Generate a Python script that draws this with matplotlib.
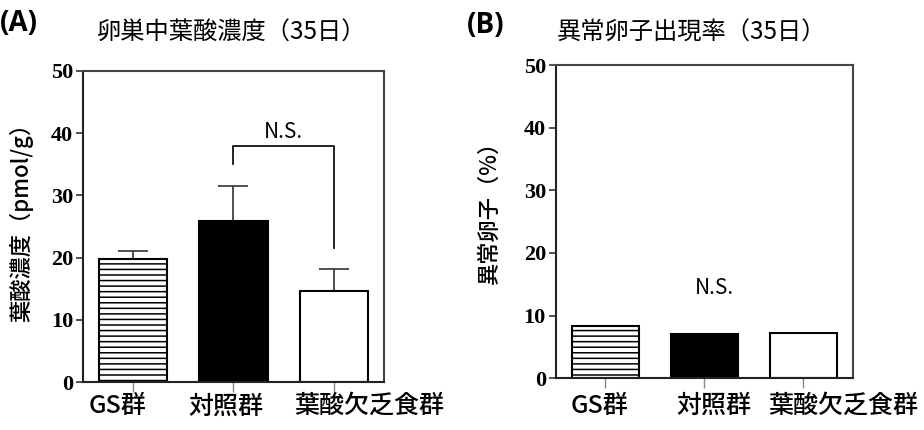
import numpy as np
import matplotlib
matplotlib.use('Agg')
import matplotlib.pyplot as plt

plt.rcParams['font.family'] = ['Noto Sans CJK JP', 'DejaVu Sans']
plt.rcParams['hatch.linewidth'] = 1.1
plt.rcParams['hatch.color'] = '#222222'

groups = ['GS群', '対照群', '葉酸欠乏食群']

# (A) ovarian folate concentration
folate_mean = [19.7, 25.9, 14.6]
folate_err = [1.4, 5.6, 3.6]
bracket_a_x = [1, 1, 2, 2]
bracket_a_y = [35.0, 37.9, 37.9, 21.5]

# (B) abnormal oocyte rate
abnormal_rate = [8.4, 7.0, 7.3]

bar_colors = ['white', 'black', 'white']
bar_hatches = ['---', None, None]
yticks = [0, 10, 20, 30, 40, 50]

# group labels in the original are not centred on the ticks (pixel shifts)
label_shift_a = [-16, -8, 35]
label_shift_b = [-6, 10, 40]

fig = plt.figure(figsize=(9.24, 4.30), dpi=100)
ax_a = fig.add_axes([0.0898, 0.1116, 0.3258, 0.7233])
ax_b = fig.add_axes([0.6014, 0.1202, 0.3214, 0.7286])


def style_axes(ax, shifts, drop):
    x = np.arange(len(groups))
    ax.set_xlim(-0.5, 2.5)
    ax.set_ylim(0, 50)
    ax.set_yticks(yticks)
    ax.set_yticklabels([str(t) for t in yticks], family='Liberation Serif',
                       fontweight='bold', fontsize=16)
    ax.set_xticks(x)
    ax.set_xticklabels([])
    for xi, lab, dx in zip(x, groups, shifts):
        ax.annotate(lab, xy=(xi, 0), xycoords=('data', 'axes fraction'),
                    xytext=(dx * 0.72, -drop), textcoords='offset points',
                    ha='center', va='center', fontsize=18, fontweight='medium')
    ax.tick_params(axis='y', length=5, width=1.2, pad=2, color='#333333')
    ax.tick_params(axis='x', length=7, width=1.0, color='#888888')
    for s in ax.spines.values():
        s.set_linewidth(1.5)
        s.set_color('#444444')
    ax.spines['left'].set_color('#222222')
    ax.spines['bottom'].set_color('#222222')
    return x


# panel A
x = style_axes(ax_a, label_shift_a, 17.5)
ax_a.errorbar(x, folate_mean, yerr=[np.zeros(len(x)), folate_err], fmt='none',
              ecolor='#333333', elinewidth=1.2, capsize=11, capthick=1.2, zorder=1)
for i in range(len(x)):
    ax_a.bar(x[i], folate_mean[i], width=0.68, color=bar_colors[i],
             edgecolor='black', linewidth=1.5, hatch=bar_hatches[i], zorder=2)
ax_a.plot(bracket_a_x, bracket_a_y, color='#111111', lw=1.3, zorder=3)
ax_a.text(1.5, 38.5, 'N.S.', ha='center', va='bottom', fontsize=15)
ax_a.set_ylabel('葉酸濃度（pmol/g）', fontsize=16, fontweight='medium')
ax_a.yaxis.set_label_coords(-0.165, 0.53)
fig.text(0.0, 0.945, '(A)', fontsize=20, fontweight='bold', family='Open Sans',
         ha='left', va='center')
fig.text(0.25, 0.925, '卵巣中葉酸濃度（35日）', fontsize=17.5, ha='center', va='center')

# panel B
x = style_axes(ax_b, label_shift_b, 20)
for i in range(len(x)):
    ax_b.bar(x[i], abnormal_rate[i], width=0.68, color=bar_colors[i],
             edgecolor='black', linewidth=1.5, hatch=bar_hatches[i], zorder=2)
ax_b.text(1.1, 14.4, 'N.S.', ha='center', va='center', fontsize=15)
ax_b.set_ylabel('異常卵子（%）', fontsize=16, fontweight='medium')
ax_b.yaxis.set_label_coords(-0.185, 0.547)
fig.text(0.505, 0.94, '(B)', fontsize=20, fontweight='bold', family='Open Sans',
         ha='left', va='center')
fig.text(0.748, 0.925, '異常卵子出現率（35日）', fontsize=17.5, ha='center', va='center')

fig.savefig('out.png', dpi=100)
